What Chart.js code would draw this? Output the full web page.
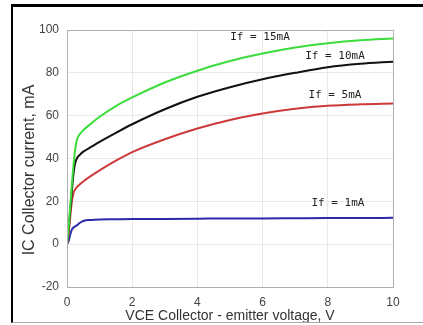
<!DOCTYPE html>
<html>
<head>
<meta charset="utf-8">
<script src="https://cdn.jsdelivr.net/npm/chart.js@4"></script>
<style>
  html, body { margin: 0; padding: 0; background: #fff; }
  #wrap { position: relative; width: 423px; height: 325px; overflow: hidden; }
  #frame {
    position: absolute; left: 11px; top: 4px; width: 420px; height: 315px;
    border-left: 2px solid #000; border-top: 3px solid #000; border-bottom: 1px solid #aaa;
    pointer-events: none;
  }
  canvas { position: absolute; left: 0; top: 0; }
</style>
</head>
<body>
<div id="wrap">
  <canvas id="chIV" width="423" height="325"></canvas>
  <div id="frame"></div>
</div>
<script>
// collector-emitter voltage, V
var vce = [0, 0.05, 0.1, 0.15, 0.2, 0.25, 0.3, 0.4, 0.5, 0.75, 1, 1.5, 2, 3, 4, 5, 6, 7, 8, 9, 10];
// collector current, mA, one array per forward current
var ic15 = [0, 8, 18, 28, 37, 44, 48.5, 51.5, 53.2, 56.5, 59.5, 64.5, 68.5, 75.5, 81, 85.5, 89, 91.8, 93.8, 95.2, 96];
var ic10 = [0, 7, 16, 25, 33, 37.8, 40, 41.8, 43.2, 45.5, 47.8, 52, 56, 63, 68.8, 73.3, 77, 80, 82.6, 84.2, 85.2];
var ic5  = [0, 5, 13, 20, 24, 25.5, 26.6, 28, 29.3, 32, 34.5, 39, 43, 49, 54, 58, 61, 63.2, 64.6, 65.3, 65.7];
var ic1  = [0, 1.5, 4.5, 6.8, 7.8, 8.3, 8.8, 10, 10.8, 11.3, 11.5, 11.6, 11.7, 11.8, 11.9, 12, 12, 12.1, 12.2, 12.2, 12.3];
var xTicks = [0, 2, 4, 6, 8, 10];
var yTicks = [-20, 0, 20, 40, 60, 80, 100];
// curve labels: text, and the (V, mA) spot they sit at
var curveLabels = ['If = 15mA', 'If = 10mA', 'If = 5mA', 'If = 1mA'];
var labelAt = [[5.92, 96.7], [8.22, 87.9], [8.22, 69.6], [8.31, 19.2]];

var colors = ['#3ddc3d', '#111111', '#cc3a3a', '#2a2aa8'];

function pts(ys) {
  return vce.map(function(v, i) { return {x: v, y: ys[i]}; });
}

var boxAndLabels = {
  id: 'boxAndLabels',
  afterDraw: function(chart) {
    var ctx = chart.ctx, a = chart.chartArea;
    var sx = chart.scales.x, sy = chart.scales.y;
    ctx.save();
    ctx.strokeStyle = '#b0b0b0';
    ctx.lineWidth = 1;
    ctx.strokeRect(a.left + 0.5, a.top + 0.5, a.right - a.left, a.bottom - a.top);
    ctx.font = '11px "DejaVu Sans Mono"';
    ctx.fillStyle = '#222';
    ctx.textAlign = 'center';
    ctx.textBaseline = 'middle';
    curveLabels.forEach(function(t, i) {
      ctx.fillText(t, sx.getPixelForValue(labelAt[i][0]), sy.getPixelForValue(labelAt[i][1]));
    });
    // y axis title
    ctx.translate(30, 170);
    ctx.rotate(-Math.PI / 2);
    ctx.font = '16px "Liberation Sans"';
    ctx.fillStyle = '#333';
    ctx.fillText('IC Collector current, mA', 0, 0);
    ctx.restore();
  }
};

new Chart(document.getElementById('chIV'), {
  type: 'line',
  data: {
    datasets: [
      {label: curveLabels[0], data: pts(ic15), borderColor: colors[0]},
      {label: curveLabels[1], data: pts(ic10), borderColor: colors[1]},
      {label: curveLabels[2], data: pts(ic5), borderColor: colors[2]},
      {label: curveLabels[3], data: pts(ic1), borderColor: colors[3]}
    ]
  },
  options: {
    responsive: false,
    animation: false,
    layout: {padding: {left: 0, top: 30, right: 30, bottom: 0}},
    elements: {
      point: {radius: 0},
      line: {borderWidth: 2, cubicInterpolationMode: 'monotone', fill: false}
    },
    plugins: {legend: {display: false}, tooltip: {enabled: false}},
    scales: {
      x: {
        type: 'linear', min: 0, max: 10,
        afterFit: function(s) { s.height = 38; },
        afterBuildTicks: function(s) { s.ticks = xTicks.map(function(v) { return {value: v}; }); },
        grid: {color: '#e8e8e8', drawTicks: false},
        border: {color: '#999'},
        ticks: {padding: 8, color: '#444', font: {family: 'Liberation Sans', size: 12}},
        title: {display: true, text: 'VCE Collector - emitter voltage, V', color: '#333',
                font: {family: 'Liberation Sans', size: 14}, padding: {top: 0, bottom: 0}}
      },
      y: {
        min: -20, max: 100,
        afterFit: function(s) { s.width = 67; },
        afterBuildTicks: function(s) { s.ticks = yTicks.map(function(v) { return {value: v}; }); },
        grid: {color: '#e8e8e8', drawTicks: false},
        border: {color: '#999'},
        ticks: {padding: 8, color: '#444', font: {family: 'Liberation Sans', size: 12}}
      }
    }
  },
  plugins: [boxAndLabels]
});
</script>
</body>
</html>
